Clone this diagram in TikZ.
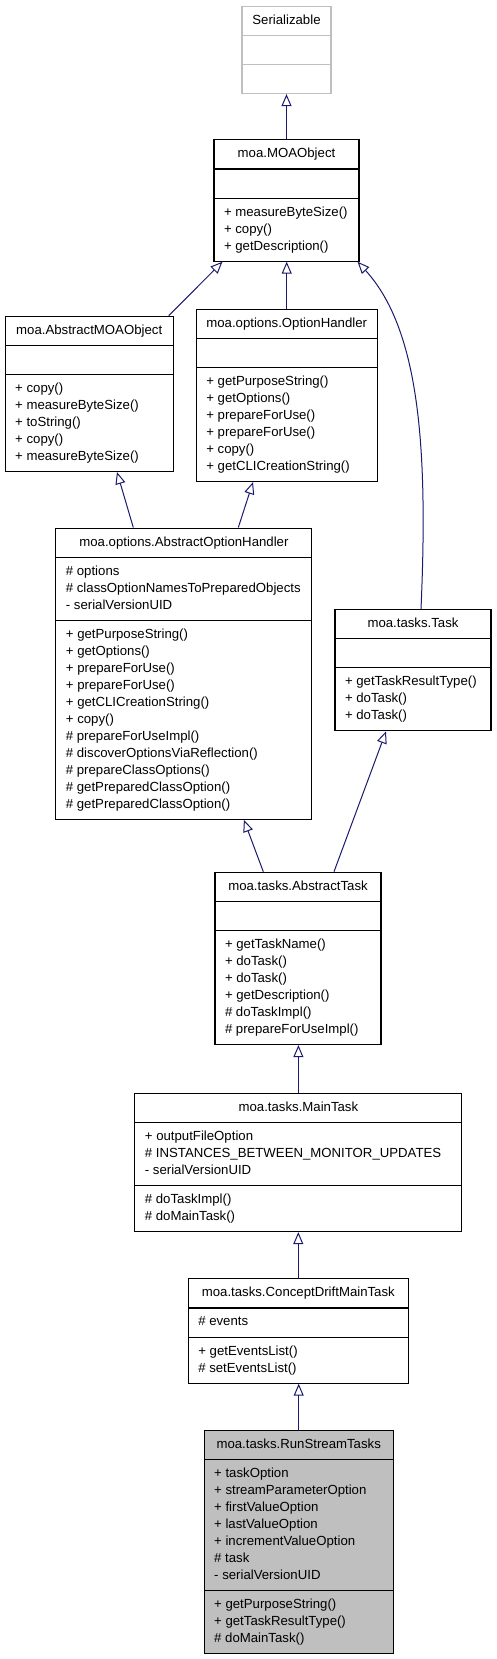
\documentclass[tikz,border=0pt]{standalone}
\usepackage{fontspec}
\setmainfont{Liberation Sans}
\usetikzlibrary{shapes.multipart,arrows.meta}

\definecolor{edgeblue}{RGB}{25,25,112}
\definecolor{greyframe}{RGB}{191,191,191}
\definecolor{greyfill}{RGB}{191,191,191}

% one member line of a class box
\newcommand{\umlrow}[1]{\strut#1}

\begin{document}
\begin{tikzpicture}[
  x=1pt, y=-1pt, line join=miter,
  >={Triangle[open, length=12pt, width=10pt]},
  cls/.style={rectangle split, rectangle split parts=3, draw=black,
              line width=1.1pt, fill=white, anchor=north,
              rectangle split part align={center,left,left}, align=left,
              inner xsep=10pt, inner ysep=5.5pt,
              font=\fontsize{13.2}{17}\selectfont},
  inh/.style={->, draw=edgeblue, line width=1pt}
]
  \useasboundingbox (0,0) rectangle (496,1659);

  % ── Upper part: Serializable / MOAObject ──────────────────────────────────

  \node[cls, draw=greyframe, minimum width=89pt] (ser) at (286.5, 5.7)
      {\umlrow{Serializable}
       \nodepart{second}\umlrow{}
       \nodepart{third}\umlrow{}};

  \node[cls, minimum width=145pt] (moa) at (286.5, 139.3)
      {\umlrow{moa.MOAObject}
       \nodepart{second}\umlrow{}
       \nodepart{third}\umlrow{+ measureByteSize()}\\\umlrow{+ copy()}\\
       \umlrow{+ getDescription()}};

  \node[cls, minimum width=168pt] (amo) at (89.2, 315.7)
      {\umlrow{moa.AbstractMOAObject}
       \nodepart{second}\umlrow{}
       \nodepart{third}\umlrow{+ copy()}\\\umlrow{+ measureByteSize()}\\
       \umlrow{+ toString()}\\\umlrow{+ copy()}\\\umlrow{+ measureByteSize()}};

  \node[cls, minimum width=180pt] (oh) at (286.7, 308.7)
      {\umlrow{moa.options.OptionHandler}
       \nodepart{second}\umlrow{}
       \nodepart{third}\umlrow{+ getPurposeString()}\\\umlrow{+ getOptions()}\\
       \umlrow{+ prepareForUse()}\\\umlrow{+ prepareForUse()}\\
       \umlrow{+ copy()}\\\umlrow{+ getCLICreationString()}};

  % ── Middle part: option handler and tasks ─────────────────────────────────

  \node[cls, minimum width=256pt] (aoh) at (183.9, 527.5)
      {\umlrow{moa.options.AbstractOptionHandler}
       \nodepart{second}\umlrow{\# options}\\
       \umlrow{\# classOptionNamesToPreparedObjects}\\\umlrow{- serialVersionUID}
       \nodepart{third}\umlrow{+ getPurposeString()}\\\umlrow{+ getOptions()}\\
       \umlrow{+ prepareForUse()}\\\umlrow{+ prepareForUse()}\\
       \umlrow{+ getCLICreationString()}\\\umlrow{+ copy()}\\
       \umlrow{\# prepareForUseImpl()}\\\umlrow{\# discoverOptionsViaReflection()}\\
       \umlrow{\# prepareClassOptions()}\\\umlrow{\# getPreparedClassOption()}\\
       \umlrow{\# getPreparedClassOption()}};

  \node[cls, minimum width=156pt] (task) at (413, 609)
      {\umlrow{moa.tasks.Task}
       \nodepart{second}\umlrow{}
       \nodepart{third}\umlrow{+ getTaskResultType()}\\\umlrow{+ doTask()}\\
       \umlrow{+ doTask()}};

  \node[cls, minimum width=166pt] (at) at (298, 871.7)
      {\umlrow{moa.tasks.AbstractTask}
       \nodepart{second}\umlrow{}
       \nodepart{third}\umlrow{+ getTaskName()}\\\umlrow{+ doTask()}\\
       \umlrow{+ doTask()}\\\umlrow{+ getDescription()}\\
       \umlrow{\# doTaskImpl()}\\\umlrow{\# prepareForUseImpl()}};

  % ── Lower part: main tasks ────────────────────────────────────────────────

  \node[cls, minimum width=327pt] (mt) at (298.4, 1092.7)
      {\umlrow{moa.tasks.MainTask}
       \nodepart{second}\umlrow{+ outputFileOption}\\
       \umlrow{\# INSTANCES\_BETWEEN\_MONITOR\_UPDATES}\\\umlrow{- serialVersionUID}
       \nodepart{third}\umlrow{\# doTaskImpl()}\\\umlrow{\# doMainTask()}};

  \node[cls, minimum width=220pt] (cdmt) at (298.3, 1278.3)
      {\umlrow{moa.tasks.ConceptDriftMainTask}
       \nodepart{second}\umlrow{\# events}
       \nodepart{third}\umlrow{+ getEventsList()}\\\umlrow{\# setEventsList()}};

  \node[cls, fill=greyfill, minimum width=189pt] (rst) at (298.7, 1430)
      {\umlrow{moa.tasks.RunStreamTasks}
       \nodepart{second}\umlrow{+ taskOption}\\\umlrow{+ streamParameterOption}\\
       \umlrow{+ firstValueOption}\\\umlrow{+ lastValueOption}\\
       \umlrow{+ incrementValueOption}\\\umlrow{\# task}\\\umlrow{- serialVersionUID}
       \nodepart{third}\umlrow{+ getPurposeString()}\\\umlrow{+ getTaskResultType()}\\
       \umlrow{\# doMainTask()}};

  % ── Inheritance arrows (child -> parent) ──────────────────────────────────

  \draw[inh] (moa.north) -- (ser.south);
  \draw[inh] ([xshift=-5pt]amo.north east) -- ([xshift=9pt]moa.south west);
  \draw[inh] (oh.north) -- (oh.north |- moa.south);
  \draw[inh] ([xshift=8pt]task.north)
      .. controls (428,450) and (420,330) .. ([xshift=-2pt]moa.south east);

  \draw[inh] ([xshift=-50.6pt]aoh.north) -- ([xshift=27.8pt]amo.south);
  \draw[inh] ([xshift=54.4pt]aoh.north) -- ([xshift=-33.7pt]oh.south);

  \draw[inh] ([xshift=-34.7pt]at.north) -- ([xshift=60pt]aoh.south);
  \draw[inh] ([xshift=36pt]at.north) -- ([xshift=-27pt]task.south);

  \draw[inh] (mt.north) -- (mt.north |- at.south);
  \draw[inh] (cdmt.north) -- (cdmt.north |- mt.south);
  \draw[inh] (rst.north) -- (rst.north |- cdmt.south);

\end{tikzpicture}
\end{document}
